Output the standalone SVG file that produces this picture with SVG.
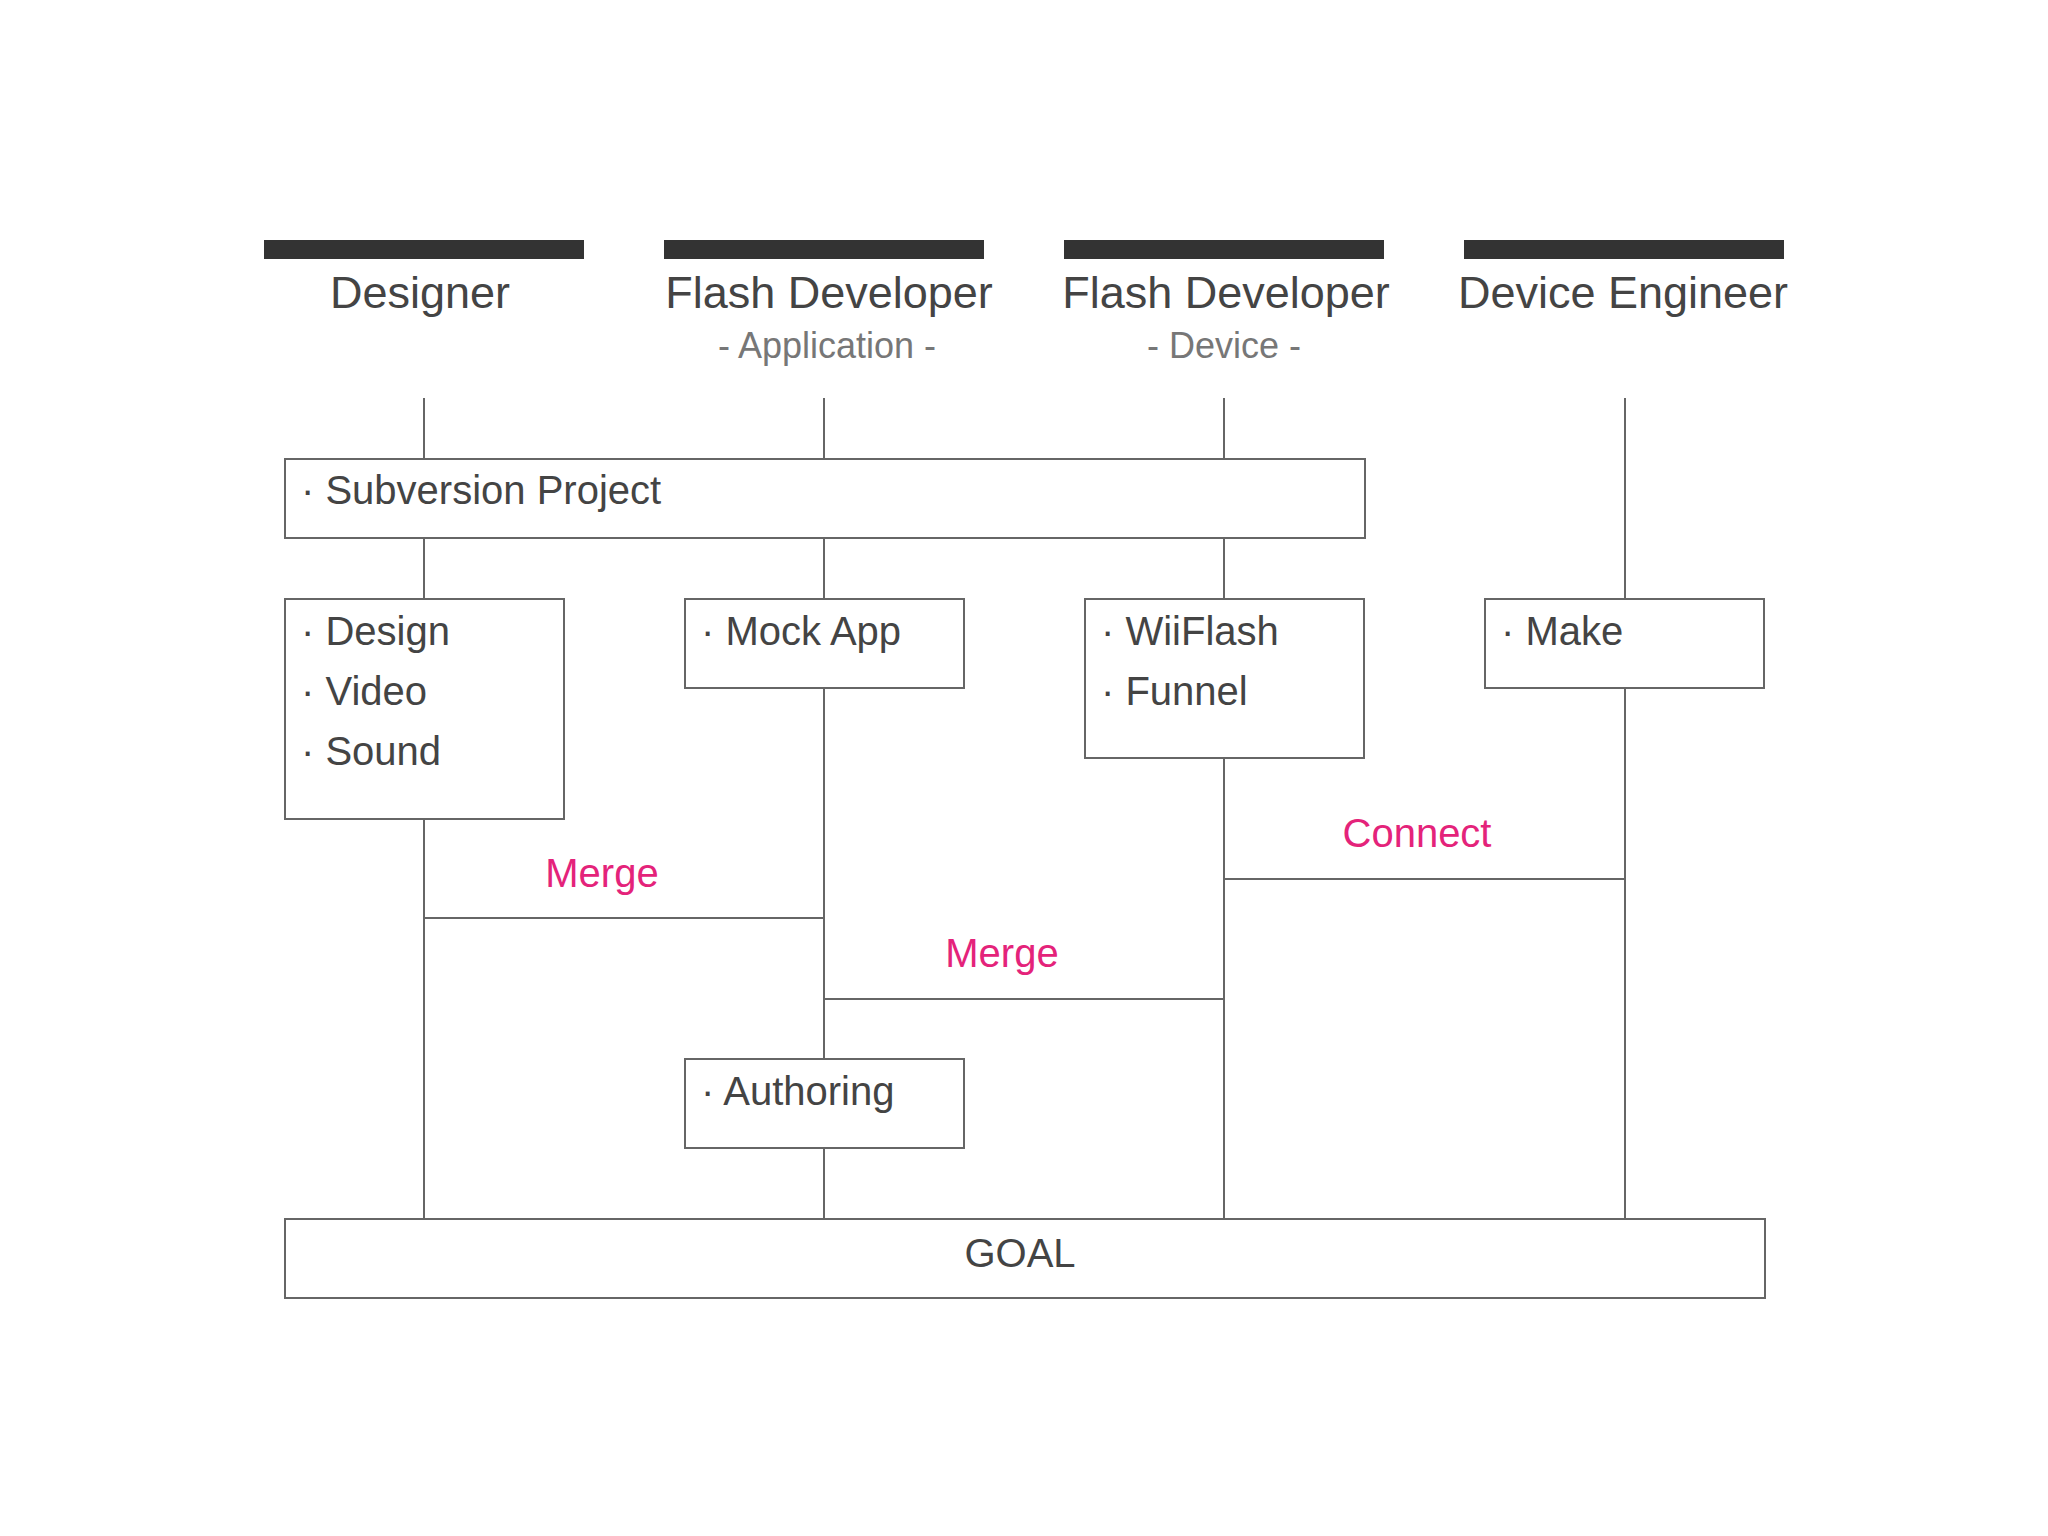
<svg xmlns="http://www.w3.org/2000/svg" width="2048" height="1536" viewBox="0 0 2048 1536">
<style>
.bar{fill:#333}
.title{font-family:"Liberation Sans",Arial,sans-serif;font-size:45px;fill:#444;text-anchor:middle}
.sub{font-family:"Liberation Sans",Arial,sans-serif;font-size:36px;fill:#777;text-anchor:middle}
.box{fill:#fff;stroke:#666;stroke-width:2}
.t{font-family:"Liberation Sans",Arial,sans-serif;font-size:40px;fill:#444}
.lbl{font-family:"Liberation Sans",Arial,sans-serif;font-size:40px;fill:#e4237a;text-anchor:middle}
.ln{stroke:#666;stroke-width:2;fill:none}
</style>
<rect width="2048" height="1536" fill="#fff"/>
<g id="headers">
<g id="h-designer"><rect class="bar" x="264" y="240" width="320" height="19"/><text class="title" x="420" y="308">Designer</text></g>
<g id="h-flash-app"><rect class="bar" x="664" y="240" width="320" height="19"/><text class="title" x="829" y="308">Flash Developer</text><text class="sub" x="827" y="358">- Application -</text></g>
<g id="h-flash-dev"><rect class="bar" x="1064" y="240" width="320" height="19"/><text class="title" x="1226" y="308">Flash Developer</text><text class="sub" x="1224" y="358">- Device -</text></g>
<g id="h-device"><rect class="bar" x="1464" y="240" width="320" height="19"/><text class="title" x="1623" y="308">Device Engineer</text></g>
</g>
<g id="connectors">
<line class="ln" x1="424" y1="398" x2="424" y2="1219"/>
<line class="ln" x1="824" y1="398" x2="824" y2="1219"/>
<line class="ln" x1="1224" y1="398" x2="1224" y2="1219"/>
<line class="ln" x1="1625" y1="398" x2="1625" y2="1219"/>
<line class="ln" x1="424" y1="918" x2="824" y2="918"/>
<line class="ln" x1="824" y1="999" x2="1224" y2="999"/>
<line class="ln" x1="1224" y1="879" x2="1625" y2="879"/>
<text class="lbl" x="602" y="887">Merge</text>
<text class="lbl" x="1002" y="967">Merge</text>
<text class="lbl" x="1417" y="847">Connect</text>
</g>
<g id="subversion"><rect class="box" x="285" y="459" width="1080" height="79"/><text class="t" x="301" y="504">· Subversion Project</text></g>
<g id="design"><rect class="box" x="285" y="599" width="279" height="220"/><text class="t" x="301" y="645">· Design</text><text class="t" x="301" y="705">· Video</text><text class="t" x="301" y="765">· Sound</text></g>
<g id="mockapp"><rect class="box" x="685" y="599" width="279" height="89"/><text class="t" x="701" y="645">· Mock App</text></g>
<g id="wiiflash"><rect class="box" x="1085" y="599" width="279" height="159"/><text class="t" x="1101" y="645">· WiiFlash</text><text class="t" x="1101" y="705">· Funnel</text></g>
<g id="make"><rect class="box" x="1485" y="599" width="279" height="89"/><text class="t" x="1501" y="645">· Make</text></g>
<g id="authoring"><rect class="box" x="685" y="1059" width="279" height="89"/><text class="t" x="701" y="1105">· Authoring</text></g>
<g id="goal"><rect class="box" x="285" y="1219" width="1480" height="79"/><text class="t" x="1020" y="1267" text-anchor="middle">GOAL</text></g>
</svg>
